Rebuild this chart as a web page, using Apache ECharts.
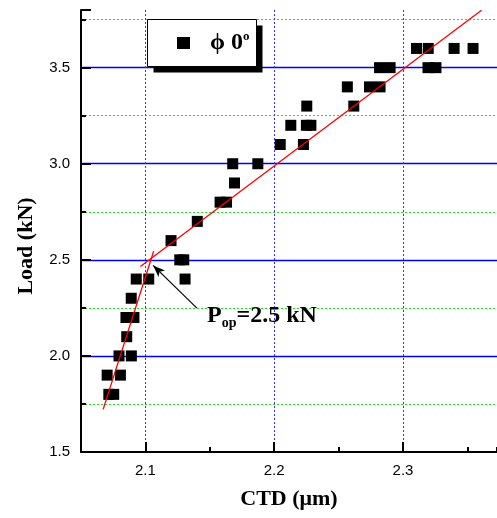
<!DOCTYPE html>
<html>
<head>
<meta charset="utf-8">
<script src="https://cdn.jsdelivr.net/npm/echarts@6/dist/echarts.min.js"></script>
<style>
  html, body { margin: 0; padding: 0; background: #fff; }
  #chart { width: 497px; height: 518px; }
</style>
</head>
<body>
<div id="chart"></div>
<script>
// measured points, CTD (um) vs load (kN)
const ctd = [
  2.0716, 2.0754,
  2.0703, 2.0806,
  2.0795, 2.0891,
  2.0855,
  2.0849, 2.0911,
  2.089,
  2.0929, 2.1026, 2.1308,
  2.1267, 2.1298,
  2.1199,
  2.1403,
  2.158, 2.163,
  2.1692,
  2.1678, 2.1873,
  2.2047, 2.2227,
  2.2129, 2.225, 2.2285,
  2.2253, 2.2618,
  2.2568, 2.274, 2.2822,
  2.2818, 2.29, 2.3194, 2.3256,
  2.3105, 2.3196, 2.3397, 2.3544
];
const load = [
  1.8, 1.8,
  1.9, 1.9,
  2.0, 2.0,
  2.1,
  2.2, 2.2,
  2.3,
  2.4, 2.4, 2.4,
  2.5, 2.5,
  2.6,
  2.7,
  2.8, 2.8,
  2.9,
  3.0, 3.0,
  3.1, 3.1,
  3.2, 3.2, 3.2,
  3.3, 3.3,
  3.4, 3.4, 3.4,
  3.5, 3.5, 3.5, 3.5,
  3.6, 3.6, 3.6, 3.6
];

// two fitted lines (end points) and the opening load arrow
const fitSteep = [[2.0672, 1.7217], [2.1064, 2.545]];
const fitShallow = [[2.0961, 2.4657], [2.361, 3.7985]];
const arrowFrom = [2.140, 2.2485];
const arrowTo = [2.106, 2.471];
const noteAt = [2.1483, 2.270];

const xTicks = ['2.1', '2.2', '2.3'];
const yTicks = ['1.5', '2.0', '2.5', '3.0', '3.5'];

const serif = 'Liberation Serif';
const sans = 'Liberation Sans';

const chart = echarts.init(document.getElementById('chart'));

const points = ctd.map((c, i) => [c, load[i]]);

// grid 0 holds the data, grid 1 starts at x = 2.1 so its 0.1 ticks land on 2.1, 2.2, 2.3
const xMin = 2.05, xMax = 2.373;
const plotLeft = 81, plotW = 416;
const majorLeft = plotLeft + (2.1 - xMin) / (xMax - xMin) * plotW;

// legend frame with a hard drop shadow
const box = { x: 147.5, y: 19.5, w: 109, h: 47, shadow: 6 };

chart.setOption({
  animation: false,
  grid: [
    { left: plotLeft, right: 0, top: 10, bottom: 66, outerBoundsMode: 'none' },
    { left: majorLeft, right: 0, top: 10, bottom: 66, outerBoundsMode: 'none' }
  ],
  graphic: [
    {
      type: 'rect',
      z: 10,
      shape: { x: box.x + box.shadow, y: box.y + box.shadow, width: box.w, height: box.h },
      style: { fill: '#000' }
    },
    {
      type: 'rect',
      z: 11,
      shape: { x: box.x, y: box.y, width: box.w, height: box.h },
      style: { fill: '#fff', stroke: '#000', lineWidth: 1 }
    }
  ],
  legend: {
    data: ['phi0'],
    left: 147,
    top: 19,
    z: 20,
    orient: 'vertical',
    padding: [11, 9, 11, 30],
    itemWidth: 13,
    itemHeight: 12,
    formatter: () => '{a|ϕ 0}{s|o}',
    textStyle: {
      color: '#000',
      padding: [0, 0, 0, 15],
      rich: {
        a: { fontFamily: serif, fontWeight: 'bold', fontSize: 24, color: '#000', lineHeight: 26, verticalAlign: 'middle' },
        s: { fontFamily: serif, fontWeight: 'bold', fontSize: 13, color: '#000', lineHeight: 13, verticalAlign: 'top' }
      }
    }
  },
  xAxis: [
    {
      type: 'value',
      gridIndex: 0,
      min: xMin,
      max: xMax,
      interval: 0.05,
      axisLine: { show: true, onZero: false, lineStyle: { color: '#000', width: 2 } },
      axisTick: { show: true, inside: true, length: 5, lineStyle: { color: '#000', width: 2 } },
      axisLabel: { show: false },
      splitLine: { show: false },
      name: 'CTD (μm)',
      nameLocation: 'middle',
      nameGap: 36,
      nameTextStyle: { fontFamily: serif, fontWeight: 'bold', fontSize: 22, color: '#000' }
    },
    {
      type: 'value',
      gridIndex: 1,
      min: 2.1,
      max: xMax,
      interval: 0.1,
      axisLine: { show: false, onZero: false },
      axisTick: { show: true, inside: true, length: 10, lineStyle: { color: '#000', width: 2 } },
      axisLabel: {
        show: true,
        margin: 11,
        fontFamily: sans,
        fontSize: 15,
        color: '#000',
        showMaxLabel: false,
        formatter: v => {
          const s = v.toFixed(1);
          return xTicks.includes(s) && Math.abs(v - Number(s)) < 1e-6 ? s : '';
        }
      },
      splitLine: {
        show: true,
        showMinLine: true,
        showMaxLine: false,
        lineStyle: { color: '#3030ff', type: [2, 2], width: 1 }
      }
    }
  ],
  yAxis: [
    {
      type: 'value',
      gridIndex: 0,
      min: 1.5,
      max: 3.8,
      interval: 0.5,
      axisLine: { show: true, onZero: false, lineStyle: { color: '#000', width: 2 } },
      axisTick: { show: true, inside: true, length: 10, lineStyle: { color: '#000', width: 2 } },
      minorTick: { show: true, splitNumber: 2, length: 5, lineStyle: { color: '#000', width: 2 } },
      axisLabel: {
        margin: 11,
        fontFamily: sans,
        fontSize: 15,
        color: '#000',
        showMaxLabel: false,
        formatter: v => {
          const s = v.toFixed(1);
          return yTicks.includes(s) ? s : '';
        }
      },
      splitLine: {
        show: true,
        showMinLine: false,
        showMaxLine: false,
        lineStyle: { color: '#0000ff', width: 1.3 }
      },
      minorSplitLine: {
        show: true,
        lineStyle: { color: '#22dd22', type: [2, 2], width: 1 }
      },
      name: 'Load (kN)',
      nameLocation: 'middle',
      nameGap: 44,
      nameRotate: 90,
      nameTextStyle: { fontFamily: serif, fontWeight: 'bold', fontSize: 22, color: '#000', padding: [0, 30, 0, 0] }
    },
    {
      type: 'value',
      gridIndex: 1,
      min: 1.5,
      max: 3.8,
      show: false,
      splitLine: { show: false },
      axisLine: { show: false },
      axisTick: { show: false },
      axisLabel: { show: false }
    }
  ],
  series: [
    {
      name: 'fitA',
      type: 'line',
      data: fitSteep,
      showSymbol: false,
      symbol: 'none',
      lineStyle: { color: '#ff0000', width: 1.3 },
      z: 3
    },
    {
      name: 'fitB',
      type: 'line',
      data: fitShallow,
      showSymbol: false,
      symbol: 'none',
      lineStyle: { color: '#ff0000', width: 1.3 },
      z: 3
    },
    {
      name: 'phi0',
      type: 'scatter',
      data: points,
      symbol: 'rect',
      symbolSize: 11,
      itemStyle: { color: '#000', opacity: 1 },
      z: 2
    },
    {
      name: 'note',
      type: 'scatter',
      data: [noteAt],
      symbolSize: 1,
      itemStyle: { color: '#fff', opacity: 0 },
      label: {
        show: true,
        position: [0, 0],
        align: 'left',
        verticalAlign: 'top',
        color: '#000',
        opacity: 1,
        formatter: () => '{p|P}{s|op}{p|=2.5 kN}',
        rich: {
          p: { fontFamily: serif, fontWeight: 'bold', fontSize: 24, color: '#000', lineHeight: 26, verticalAlign: 'top' },
          s: { fontFamily: serif, fontWeight: 'bold', fontSize: 14, color: '#000', lineHeight: 26, verticalAlign: 'top', padding: [13, 0, 0, 0] }
        }
      },
      markLine: {
        silent: true,
        symbol: ['none', 'arrow'],
        symbolSize: [7, 12],
        label: { show: false },
        lineStyle: { color: '#000', width: 1.2, type: 'solid', opacity: 1 },
        data: [[{ coord: arrowFrom }, { coord: arrowTo }]]
      },
      z: 4
    }
  ]
});
</script>
</body>
</html>
